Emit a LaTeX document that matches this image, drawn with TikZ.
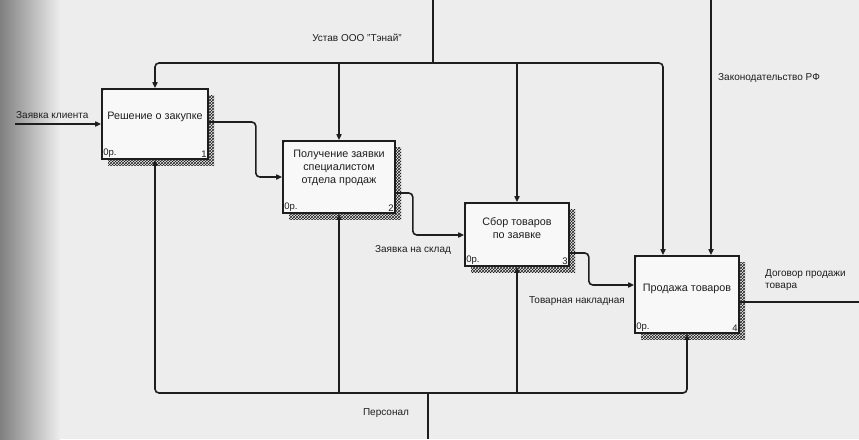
\documentclass[tikz,border=0pt]{standalone}
\usepackage{fontspec}
\setmainfont{Liberation Sans}
\usepackage{xcolor}
\usetikzlibrary{arrows.meta,patterns,shadows}
\definecolor{ink}{HTML}{1E1E1E}
\definecolor{paper}{HTML}{EDEDED}

\begin{document}
\begin{tikzpicture}[y=-1pt,x=1pt,
	box/.style={draw=ink, line width=1.6pt, fill=white!60!paper, inner sep=0pt,
		drop shadow={shadow xshift=6pt, shadow yshift=-6pt, opacity=1, draw=none, pattern=crosshatch, pattern color=ink}},
	btext/.style={text=ink, font=\fontsize{10.8}{13}\selectfont, align=center, inner sep=0pt},
	corner/.style={text=ink, font=\fontsize{9.5}{10}\selectfont, inner sep=2pt},
	lbl/.style={text=ink, font=\fontsize{10}{12}\selectfont, inner sep=0pt},
	line/.style={draw=ink, line width=1.6pt},
	flow/.style={line, rounded corners=4pt, -{Triangle[length=6pt,width=5pt]}}]

	\fill[paper] (0,0) rectangle (859,439);
	\shade[left color=black!50, right color=paper] (0,0) rectangle (60,439);
	\useasboundingbox (0,0) rectangle (859,439);

	\node[box, minimum width=106, minimum height=70] (b1) at (155,124) {};
	\node[box, minimum width=112, minimum height=72] (b2) at (339,177) {};
	\node[box, minimum width=104, minimum height=63] (b3) at (517,234.5) {};
	\node[box, minimum width=104, minimum height=77] (b4) at (687,294.5) {};

	\node[btext] (t1) at ([yshift=7pt]b1.center) {Решение о закупке};
	\node[btext] (t2) at ([yshift=9pt]b2.center) {Получение заявки\\специалистом\\отдела продаж};
	\node[btext] (t3) at ([yshift=6pt]b3.center) {Сбор товаров\\по заявке};
	\node[btext] (t4) at ([yshift=6pt]b4.center) {Продажа товаров};

	\node[corner, anchor=south west] (o1) at (b1.south west) {0р.};
	\node[corner, anchor=south east] (n1) at (b1.south east) {1};
	\node[corner, anchor=south west] (o2) at (b2.south west) {0р.};
	\node[corner, anchor=south east] (n2) at (b2.south east) {2};
	\node[corner, anchor=south west] (o3) at (b3.south west) {0р.};
	\node[corner, anchor=south east] (n3) at (b3.south east) {3};
	\node[corner, anchor=south west] (o4) at (b4.south west) {0р.};
	\node[corner, anchor=south east] (n4) at (b4.south east) {4};

	\draw[ink, thin] ([yshift=-4pt]b1.north west) -- ([xshift=4pt]b1.north west);
	\draw[ink, thin] ([yshift=-4pt]b2.north west) -- ([xshift=4pt]b2.north west);
	\draw[ink, thin] ([yshift=-4pt]b3.north west) -- ([xshift=4pt]b3.north west);
	\draw[ink, thin] ([yshift=-4pt]b4.north west) -- ([xshift=4pt]b4.north west);

	\coordinate (ustav) at (433,0);
	\coordinate (uj) at (433,63);
	\coordinate (zak) at (711,0);
	\coordinate (zin) at (15,124);
	\coordinate (dog) at (859,302);
	\coordinate (pers) at (428,439);
	\coordinate (pj) at (428,393);

	\draw[line] (ustav) -- (uj);
	\draw[flow] (uj) -| (b1.north);
	\draw[flow] (uj) -| ([xshift=-24pt]b4.north);
	\draw[flow] (b2.north |- uj) -- (b2.north);
	\draw[flow] (b3.north |- uj) -- (b3.north);
	\draw[flow] (zak) -- (zak |- b4.north);

	\draw[flow] (zin) -- (b1.west);
	\draw[flow] ([yshift=2pt]b1.east) -- ++(47,0) |- (b2.west);
	\draw[flow] ([yshift=-16pt]b2.east) -- ++(17,0) |- ([yshift=-0.5pt]b3.west);
	\draw[flow] ([yshift=-18.5pt]b3.east) -- ++(19,0) |- ([yshift=9.5pt]b4.west);
	\draw[line] ([yshift=-7.5pt]b4.east) -- (dog);

	\draw[line] (pers) -- (pj);
	\draw[flow] (pj) -| (b1.south);
	\draw[flow] (pj) -| (b4.south);
	\draw[flow] (b2.south |- pj) -- (b2.south);
	\draw[flow] (b3.south |- pj) -- (b3.south);

	\node[lbl] (lustav) at (357,38) {Устав ООО "Тэнай"};
	\node[lbl, anchor=west] (lzak) at (718,78) {Законодательство РФ};
	\node[lbl, anchor=west] (lzin) at (16,115) {Заявка клиента};
	\node[lbl] (lsklad) at (413,250) {Заявка на склад};
	\node[lbl] (lnakl) at (577,301) {Товарная накладная};
	\node[lbl, anchor=north west, align=left] (ldog) at (765,269) {Договор продажи\\товара};
	\node[lbl] (lpers) at (386,413) {Персонал};
\end{tikzpicture}
\end{document}
